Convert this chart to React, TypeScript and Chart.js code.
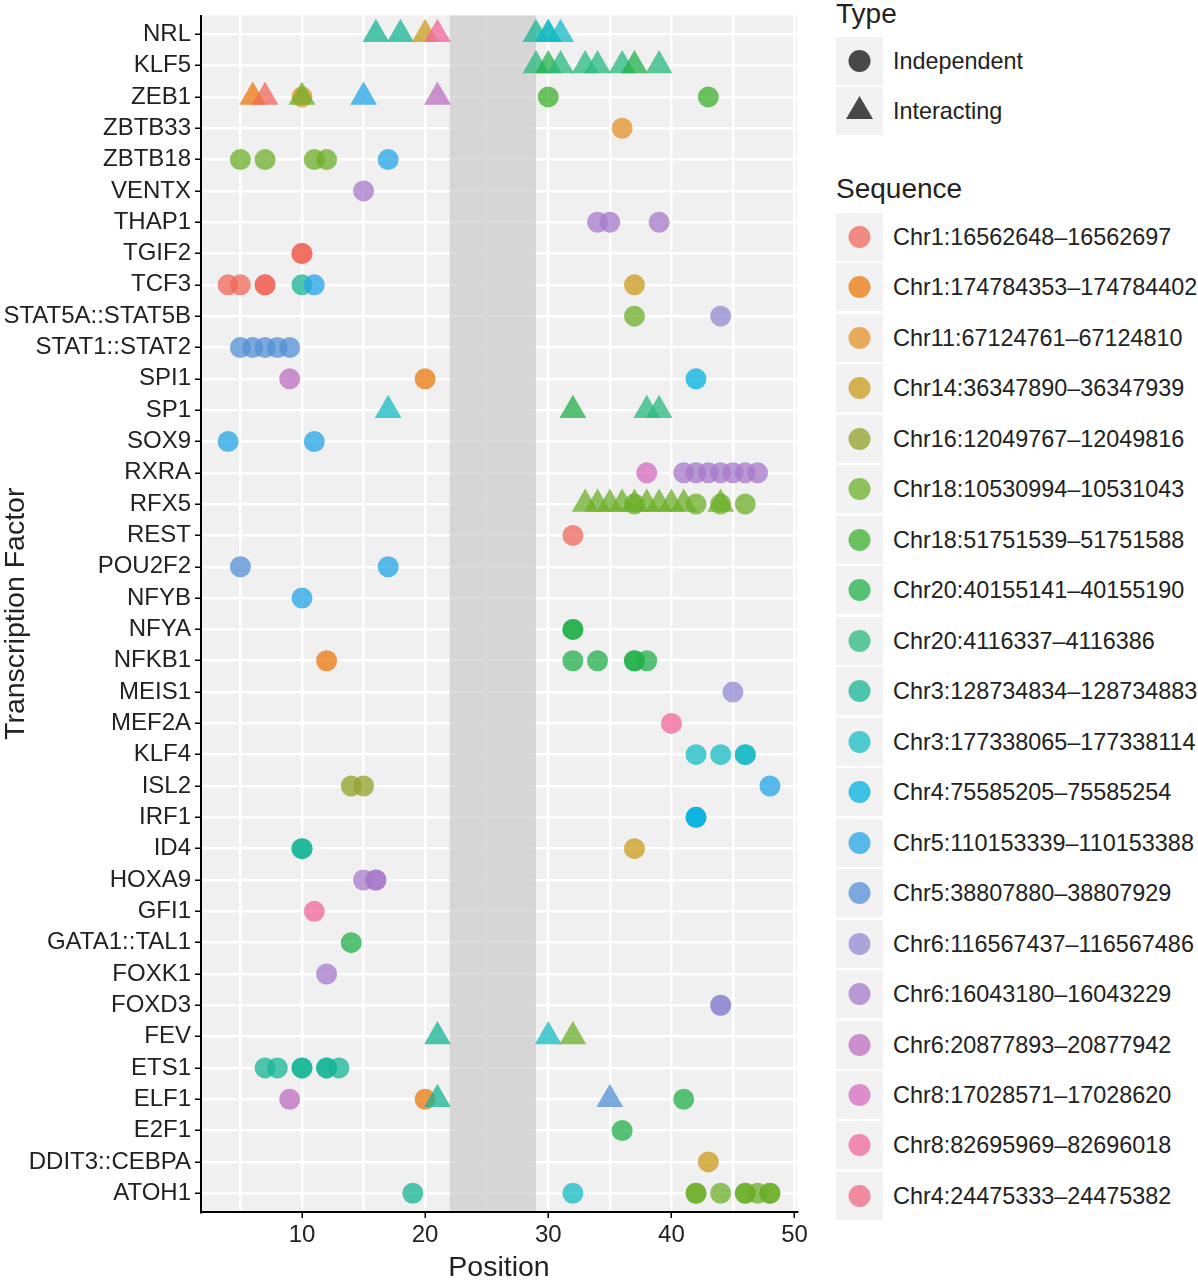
import React, { useEffect, useRef } from 'react';
import { Chart, registerables } from 'chart.js';

Chart.register(...registerables);

const FONT = '"Liberation Sans", Arial, Helvetica, sans-serif';
const TEXT = '#222';

const factors = [
  'NRL', 'KLF5', 'ZEB1', 'ZBTB33', 'ZBTB18', 'VENTX', 'THAP1', 'TGIF2', 'TCF3',
  'STAT5A::STAT5B', 'STAT1::STAT2', 'SPI1', 'SP1', 'SOX9', 'RXRA', 'RFX5', 'REST',
  'POU2F2', 'NFYB', 'NFYA', 'NFKB1', 'MEIS1', 'MEF2A', 'KLF4', 'ISL2', 'IRF1', 'ID4',
  'HOXA9', 'GFI1', 'GATA1::TAL1', 'FOXK1', 'FOXD3', 'FEV', 'ETS1', 'ELF1', 'E2F1',
  'DDIT3::CEBPA', 'ATOH1',
];

const sequences = [
  'Chr1:16562648–16562697', 'Chr1:174784353–174784402', 'Chr11:67124761–67124810',
  'Chr14:36347890–36347939', 'Chr16:12049767–12049816', 'Chr18:10530994–10531043',
  'Chr18:51751539–51751588', 'Chr20:40155141–40155190', 'Chr20:4116337–4116386',
  'Chr3:128734834–128734883', 'Chr3:177338065–177338114', 'Chr4:75585205–75585254',
  'Chr5:110153339–110153388', 'Chr5:38807880–38807929', 'Chr6:116567437–116567486',
  'Chr6:16043180–16043229', 'Chr6:20877893–20877942', 'Chr8:17028571–17028620',
  'Chr8:82695969–82696018', 'Chr4:24475333–24475382',
];

const seqColors = [
  '#F0685B', '#EB770C', '#E39128', '#CB9B1B', '#91A129', '#6CAF28', '#3DB02E',
  '#22B04A', '#28B97D', '#15B595', '#15BBC4', '#00B0DF', '#21A5E5', '#5390D5',
  '#9189D3', '#A778CB', '#BC6DBF', '#D56BBF', '#F0659D', '#F06780',
];

// [factor index, position, sequence index]
const independent = [
  [2, 10, 2], [2, 30, 6], [2, 43, 6],
  [3, 36, 2],
  [4, 5, 5], [4, 7, 5], [4, 11, 5], [4, 12, 5], [4, 17, 12],
  [5, 15, 15],
  [6, 34, 15], [6, 35, 15], [6, 39, 15],
  [7, 10, 0], [7, 10, 0],
  [8, 4, 0], [8, 5, 0], [8, 7, 0], [8, 7, 0], [8, 10, 9], [8, 11, 12], [8, 37, 3],
  [9, 37, 5], [9, 44, 14],
  [10, 5, 13], [10, 6, 13], [10, 7, 13], [10, 8, 13], [10, 9, 13],
  [11, 9, 16], [11, 20, 1], [11, 42, 11],
  [13, 4, 12], [13, 11, 12],
  [14, 38, 17], [14, 41, 15], [14, 42, 15], [14, 43, 15], [14, 44, 15], [14, 45, 15], [14, 46, 15], [14, 47, 15],
  [15, 37, 5], [15, 42, 5], [15, 44, 5], [15, 46, 5],
  [16, 32, 0],
  [17, 5, 13], [17, 17, 12],
  [18, 10, 12],
  [19, 32, 7], [19, 32, 7],
  [20, 12, 1], [20, 32, 7], [20, 34, 7], [20, 37, 7], [20, 37, 7], [20, 38, 7],
  [21, 45, 14],
  [22, 40, 18],
  [23, 42, 10], [23, 44, 10], [23, 46, 10], [23, 46, 10],
  [24, 14, 4], [24, 15, 4], [24, 48, 12],
  [25, 42, 11], [25, 42, 11],
  [26, 10, 9], [26, 10, 9], [26, 37, 3],
  [27, 15, 15], [27, 16, 15], [27, 16, 15],
  [28, 11, 18],
  [29, 14, 7],
  [30, 12, 15],
  [31, 44, 14], [31, 44, 14],
  [33, 7, 9], [33, 8, 9], [33, 10, 9], [33, 10, 9], [33, 12, 9], [33, 12, 9], [33, 13, 9],
  [34, 9, 16], [34, 20, 1], [34, 41, 7],
  [35, 36, 7],
  [36, 43, 3],
  [37, 19, 9], [37, 32, 10], [37, 42, 5], [37, 42, 5], [37, 44, 5], [37, 46, 5], [37, 46, 5],
  [37, 47, 5], [37, 48, 5], [37, 48, 5],
];

const interacting = [
  [0, 16, 9], [0, 18, 9], [0, 20, 3], [0, 21, 18], [0, 29, 9], [0, 30, 10], [0, 30, 10], [0, 31, 10],
  [1, 29, 8], [1, 30, 7], [1, 31, 8], [1, 33, 8], [1, 34, 8], [1, 36, 8], [1, 37, 7], [1, 39, 8],
  [2, 6, 1], [2, 7, 0], [2, 10, 5], [2, 15, 12], [2, 21, 16],
  [12, 17, 10], [12, 32, 7], [12, 38, 8], [12, 39, 8],
  [15, 33, 5], [15, 34, 5], [15, 35, 5], [15, 36, 5], [15, 37, 5], [15, 38, 5], [15, 39, 5],
  [15, 40, 5], [15, 41, 5], [15, 44, 5],
  [32, 21, 9], [32, 30, 10], [32, 32, 5],
  [34, 21, 9], [34, 35, 13],
];

const xTicks = [5, 10, 15, 20, 25, 30, 35, 40, 45, 50];
const band = [22, 29];

const ALPHA = 0.75;
const withAlpha = (hex: string, a: number) => {
  const n = parseInt(hex.slice(1), 16);
  return `rgba(${(n >> 16) & 255},${(n >> 8) & 255},${n & 255},${a})`;
};

const panelPlugin = {
  id: 'panel',
  beforeDraw(chart: any) {
    const { ctx, chartArea: a } = chart;
    ctx.save();
    ctx.fillStyle = '#F0F0F0';
    ctx.fillRect(a.left, a.top, a.right - a.left, a.bottom - a.top);
    ctx.restore();
  },
  beforeDatasetsDraw(chart: any) {
    const { ctx, chartArea: a, scales } = chart;
    const x0 = scales.x.getPixelForValue(band[0]);
    const x1 = scales.x.getPixelForValue(band[1]);
    ctx.save();
    ctx.fillStyle = 'rgba(205,205,205,0.75)';
    ctx.fillRect(x0, a.top, x1 - x0, a.bottom - a.top - 1);
    ctx.restore();
  },
};

const toPoints = (rows: number[][]) => rows.map(r => ({ x: r[1], y: r[0] }));
const toColors = (rows: number[][]) => rows.map(r => withAlpha(seqColors[r[2]], ALPHA));

const ScatterChart: React.FC = () => {
  const canvasRef = useRef<HTMLCanvasElement>(null);
  const chartRef = useRef<Chart | null>(null);

  useEffect(() => {
    if (!canvasRef.current) return;
    if (chartRef.current) chartRef.current.destroy();
    const ctx = canvasRef.current.getContext('2d');
    if (!ctx) return;

    chartRef.current = new Chart(ctx, {
      type: 'scatter',
      data: {
        datasets: [
          {
            label: 'Interacting',
            data: toPoints(interacting),
            pointStyle: 'triangle',
            pointRadius: 15.5,
            pointHoverRadius: 15.5,
            pointBackgroundColor: toColors(interacting),
            pointBorderWidth: 0,
            borderWidth: 0,
          },
          {
            label: 'Independent',
            data: toPoints(independent),
            pointStyle: 'circle',
            pointRadius: 10.5,
            pointHoverRadius: 10.5,
            pointBackgroundColor: toColors(independent),
            pointBorderWidth: 0,
            borderWidth: 0,
          },
        ],
      },
      options: {
        responsive: false,
        animation: false,
        layout: { padding: { left: 0, right: 23, top: 11, bottom: 0 } },
        plugins: {
          legend: { display: false },
          tooltip: { enabled: false },
        },
        scales: {
          x: {
            type: 'linear',
            min: 1.8,
            max: 50.2,
            afterBuildTicks: (s: any) => {
              s.ticks = xTicks.map(v => ({ value: v }));
            },
            afterFit: (s: any) => {
              s.height = 68;
              s.paddingLeft = 0;
              s.paddingRight = 0;
            },
            ticks: {
              autoSkip: false,
              maxRotation: 0,
              padding: 3,
              color: TEXT,
              font: { family: FONT, size: 24 },
              callback: (v: any) => (Number(v) % 10 === 0 ? String(v) : ''),
            },
            grid: {
              color: '#ffffff',
              lineWidth: 2.5,
              tickLength: 6,
              tickWidth: 1.5,
              tickColor: (c: any) => (c.tick && c.tick.value % 10 === 0 ? '#000' : 'rgba(0,0,0,0)'),
            },
            border: { display: true, color: '#000', width: 2 },
            title: {
              display: true,
              text: 'Position',
              color: TEXT,
              font: { family: FONT, size: 28.5, lineHeight: 0.85 },
              padding: 0,
            },
          },
          y: {
            type: 'linear',
            reverse: true,
            min: -0.6,
            max: factors.length - 0.4,
            afterBuildTicks: (s: any) => {
              s.ticks = factors.map((_, i) => ({ value: i }));
            },
            afterFit: (s: any) => {
              s.width = 201;
              s.paddingTop = 0;
              s.paddingBottom = 0;
            },
            ticks: {
              autoSkip: false,
              padding: 4,
              color: TEXT,
              font: { family: FONT, size: 24 },
              callback: (v: any) => factors[Number(v)] ?? '',
            },
            grid: {
              color: '#ffffff',
              lineWidth: 2.5,
              tickLength: 6,
              tickWidth: 1.5,
              tickColor: '#000',
            },
            border: { display: true, color: '#000', width: 2 },
            title: {
              display: true,
              text: 'Transcription Factor',
              color: TEXT,
              font: { family: FONT, size: 28.5, lineHeight: 1.15 },
              padding: 0,
            },
          },
        },
      },
      plugins: [panelPlugin],
    } as any);

    return () => {
      if (chartRef.current) {
        chartRef.current.destroy();
        chartRef.current = null;
      }
    };
  }, []);

  return <canvas ref={canvasRef} width={820} height={1280} style={{ width: 820, height: 1280, display: 'block' }} />;
};

const KEY_LEFT = 836;
const KEY_W = 47;
const KEY_H = 48;

const LegendKey: React.FC<{ cy: number; shape: 'circle' | 'triangle'; color: string; label: string }> = ({ cy, shape, color, label }) => (
  <>
    <svg
      width={KEY_W}
      height={KEY_H}
      style={{ position: 'absolute', left: KEY_LEFT, top: cy - KEY_H / 2 }}
    >
      <rect x={0} y={0} width={KEY_W} height={KEY_H} fill="#F2F2F2" />
      {shape === 'circle' ? (
        <circle cx={KEY_W / 2} cy={KEY_H / 2} r={11} fill={color} />
      ) : (
        <polygon
          points={`${KEY_W / 2},${KEY_H / 2 - 15} ${KEY_W / 2 - 13.5},${KEY_H / 2 + 8} ${KEY_W / 2 + 13.5},${KEY_H / 2 + 8}`}
          fill={color}
        />
      )}
    </svg>
    <div
      style={{
        position: 'absolute',
        left: 893,
        top: cy - 14,
        height: 28,
        lineHeight: '28px',
        fontFamily: FONT,
        fontSize: 23.4,
        color: TEXT,
        whiteSpace: 'nowrap',
      }}
    >
      {label}
    </div>
  </>
);

const Legend: React.FC = () => {
  const titleStyle: React.CSSProperties = {
    position: 'absolute',
    left: 836,
    height: 32,
    lineHeight: '32px',
    fontFamily: FONT,
    fontSize: 28,
    color: TEXT,
    whiteSpace: 'nowrap',
  };
  const typeColor = 'rgba(0,0,0,0.7)';
  return (
    <>
      <div style={{ ...titleStyle, top: -2 }}>Type</div>
      <LegendKey cy={61} shape="circle" color={typeColor} label="Independent" />
      <LegendKey cy={111} shape="triangle" color={typeColor} label="Interacting" />
      <div style={{ ...titleStyle, top: 173 }}>Sequence</div>
      {sequences.map((s, i) => (
        <LegendKey
          key={s}
          cy={237 + i * 50.47}
          shape="circle"
          color={withAlpha(seqColors[i], ALPHA)}
          label={s}
        />
      ))}
    </>
  );
};

export default function App() {
  return (
    <div
      style={{
        position: 'absolute',
        left: 0,
        top: 0,
        width: 1198,
        height: 1280,
        background: '#fff',
        overflow: 'hidden',
      }}
    >
      <ScatterChart />
      <Legend />
    </div>
  );
}
